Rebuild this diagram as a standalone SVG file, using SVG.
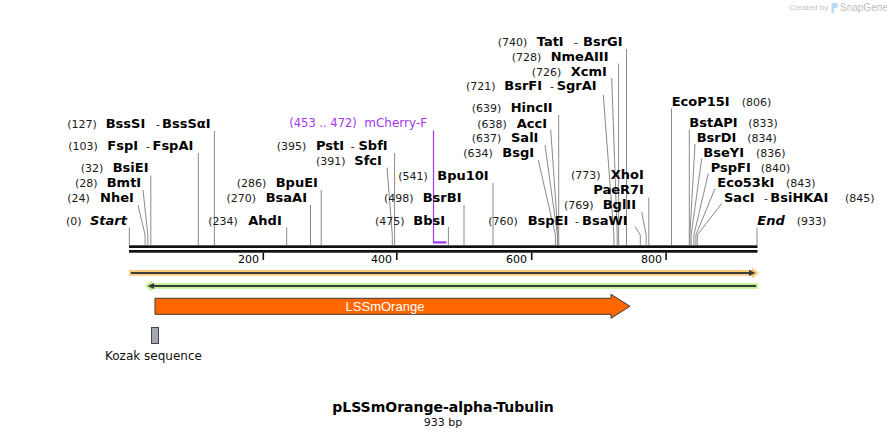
<svg xmlns="http://www.w3.org/2000/svg" width="887" height="438" viewBox="0 0 887 438">
<style>
text{font-family:"DejaVu Sans",Verdana,sans-serif}
.n{font-size:11px;fill:#1a1a1a}
.e{font-size:13px;font-weight:bold;fill:#000}
.i{font-size:13px;font-weight:bold;font-style:italic;fill:#000}
.p{fill:#a335ee}
.l{stroke:#8a8a8a;stroke-width:1;fill:none}
.t{font-size:11px;fill:#000}
</style>
<rect width="887" height="438" fill="#fff"/>
<g id="watermark">
<text x="789" y="10" style="font-family:'Liberation Sans',Arial,sans-serif;font-size:8px;fill:#c4c4c4">Created by</text>
<path d="M831.5,3 h4 a2.5,2.5 0 0 1 0,5 h-1.5 v5 h-2.5 z" fill="#b8dcf6"/>
<text x="840" y="11" style="font-family:'Liberation Sans',Arial,sans-serif;font-size:10px;fill:#bdbdbd">SnapGene</text>
</g>
<g id="backbone">
<rect x="129" y="245.3" width="628.5" height="2.7" fill="#111"/>
<rect x="129" y="250" width="628.5" height="2.7" fill="#111"/>
<rect x="262.5" y="252.5" width="1.6" height="7.5" fill="#111"/>
<rect x="396" y="252.5" width="1.6" height="7.5" fill="#111"/>
<rect x="530.9" y="252.5" width="1.6" height="7.5" fill="#111"/>
<rect x="665.3" y="252.5" width="1.6" height="7.5" fill="#111"/>
<text class="t" x="259" y="262.5" text-anchor="end">200</text>
<text class="t" x="392" y="262.5" text-anchor="end">400</text>
<text class="t" x="527" y="262.5" text-anchor="end">600</text>
<text class="t" x="662" y="262.5" text-anchor="end">800</text>
</g>
<g id="connectors">
<path class="l" d="M129.3,227.5V245"/>
<path class="l" d="M138,205L145.1,235V245"/>
<path class="l" d="M143,190L147.8,235V245"/>
<path class="l" d="M150.8,175.5V245"/>
<path class="l" d="M198.3,153V245"/>
<path class="l" d="M214.4,131V245"/>
<path class="l" d="M286.7,227.5V245"/>
<path class="l" d="M310.5,205V245"/>
<path class="l" d="M321.2,190V245"/>
<path class="l" d="M387,167.5L392.3,235V245"/>
<path class="l" d="M394.6,153V245"/>
<path class="l" d="M448.4,227V245"/>
<path class="l" d="M464,205V245"/>
<path class="l" d="M493,183V245"/>
<path class="l" d="M538.3,160L555.4,235V245"/>
<path class="l" d="M545,145L557.4,235V245"/>
<path class="l" d="M550.7,129.5L558,235V245"/>
<path class="l" d="M558.7,115V245"/>
<path class="l" d="M603.3,95L613.9,235V245"/>
<path class="l" d="M611.7,78L617.2,235V245"/>
<path class="l" d="M618.6,63.5V245"/>
<path class="l" d="M626.5,49V245"/>
<path class="l" d="M635,226.5L640.3,235V245"/>
<path class="l" d="M641.7,212L646.2,235V245"/>
<path class="l" d="M648.8,197.5V245"/>
<path class="l" d="M671.5,108.5V245"/>
<path class="l" d="M689.3,129.5V245"/>
<path class="l" d="M695,144L689.9,235V245"/>
<path class="l" d="M701.7,158.5L691.2,235V245"/>
<path class="l" d="M708.3,173.5L693.9,235V245"/>
<path class="l" d="M715,188.5L695.9,235V245"/>
<path class="l" d="M721.7,203.5L697.3,235V245"/>
<path class="l" d="M757,227.5V245"/>
<path d="M433.5,130.5V243" stroke="#a335ee" stroke-width="1.2" fill="none"/>
<rect x="433" y="241.3" width="13.5" height="2.2" fill="#a335ee"/>
</g>
<g id="start"><text class="n" x="66" y="225">(0)</text><text class="i" x="90" y="225">Start</text></g>
<g id="NheI"><text class="n" x="67.3" y="202">(24)</text><text class="e" x="100" y="202">NheI</text></g>
<g id="BmtI"><text class="n" x="75" y="187">(28)</text><text class="e" x="106.7" y="187">BmtI</text></g>
<g id="BsiEI"><text class="n" x="80.7" y="172">(32)</text><text class="e" x="112.7" y="172">BsiEI</text></g>
<g id="FspI"><text class="n" x="68.3" y="150">(103)</text><text class="e" x="107.3" y="150">FspI</text><text class="n" x="146" y="150">-</text><text class="e" x="152.5" y="150">FspAI</text></g>
<g id="BssSI"><text class="n" x="67.3" y="128">(127)</text><text class="e" x="105.7" y="128">BssSI</text><text class="n" x="156" y="128">-</text><text class="e" x="162" y="128">BssSαI</text></g>
<g id="AhdI"><text class="n" x="208.3" y="225">(234)</text><text class="e" x="248.3" y="225">AhdI</text></g>
<g id="BsaAI"><text class="n" x="226.4" y="202">(270)</text><text class="e" x="265.7" y="202">BsaAI</text></g>
<g id="BpuEI"><text class="n" x="236.7" y="187">(286)</text><text class="e" x="275.7" y="187">BpuEI</text></g>
<g id="SfcI"><text class="n" x="316" y="165">(391)</text><text class="e" x="354.3" y="165">SfcI</text></g>
<g id="PstI"><text class="n" x="276.7" y="150">(395)</text><text class="e" x="316" y="150">PstI</text><text class="n" x="350.7" y="150">-</text><text class="e" x="358.5" y="150">SbfI</text></g>
<g id="mCherry-F"><text class="n p" x="289.3" y="127" style="font-size:11.5px">(453 .. 472)</text><text class="p" x="364.3" y="127" style="font-size:12px">mCherry-F</text></g>
<g id="BbsI"><text class="n" x="375" y="225">(475)</text><text class="e" x="413.3" y="225">BbsI</text></g>
<g id="BsrBI"><text class="n" x="384" y="202">(498)</text><text class="e" x="422.7" y="202">BsrBI</text></g>
<g id="Bpu10I"><text class="n" x="398.3" y="180">(541)</text><text class="e" x="437.3" y="180">Bpu10I</text></g>
<g id="BsgI"><text class="n" x="463.3" y="157">(634)</text><text class="e" x="502.3" y="157">BsgI</text></g>
<g id="SalI"><text class="n" x="471.7" y="142">(637)</text><text class="e" x="511" y="142">SalI</text></g>
<g id="AccI"><text class="n" x="477.3" y="127.5">(638)</text><text class="e" x="516.7" y="127.5">AccI</text></g>
<g id="HincII"><text class="n" x="471.7" y="112">(639)</text><text class="e" x="510.7" y="112">HincII</text></g>
<g id="BsrFI"><text class="n" x="466" y="90">(721)</text><text class="e" x="504.3" y="90">BsrFI</text><text class="n" x="550" y="90">-</text><text class="e" x="556.7" y="90">SgrAI</text></g>
<g id="XcmI"><text class="n" x="531.7" y="75.5">(726)</text><text class="e" x="570.7" y="75.5">XcmI</text></g>
<g id="NmeAIII"><text class="n" x="511.7" y="61">(728)</text><text class="e" x="550.7" y="61">NmeAIII</text></g>
<g id="TatI"><text class="n" x="497.7" y="46">(740)</text><text class="e" x="536.7" y="46">TatI</text><text class="n" x="574" y="46">-</text><text class="e" x="583" y="46">BsrGI</text></g>
<g id="BspEI"><text class="n" x="488.3" y="225">(760)</text><text class="e" x="527.7" y="225">BspEI</text><text class="n" x="575" y="225">-</text><text class="e" x="582" y="225">BsaWI</text></g>
<g id="BglII"><text class="n" x="564" y="209">(769)</text><text class="e" x="602.7" y="209">BglII</text></g>
<g id="PaeR7I"><text class="e" x="593.3" y="194">PaeR7I</text></g>
<g id="XhoI"><text class="n" x="571" y="179">(773)</text><text class="e" x="610.7" y="179">XhoI</text></g>
<g id="EcoP15I"><text class="e" x="671.7" y="106">EcoP15I</text><text class="n" x="741.7" y="106">(806)</text></g>
<g id="BstAPI"><text class="e" x="689.3" y="127">BstAPI</text><text class="n" x="748.3" y="127">(833)</text></g>
<g id="BsrDI"><text class="e" x="696.7" y="142">BsrDI</text><text class="n" x="747.3" y="142">(834)</text></g>
<g id="BseYI"><text class="e" x="703.3" y="157">BseYI</text><text class="n" x="756" y="157">(836)</text></g>
<g id="PspFI"><text class="e" x="710.7" y="172">PspFI</text><text class="n" x="760.7" y="172">(840)</text></g>
<g id="Eco53kI"><text class="e" x="717.3" y="187">Eco53kI</text><text class="n" x="786" y="187">(843)</text></g>
<g id="SacI"><text class="e" x="724" y="202">SacI</text><text class="n" x="764" y="202">-</text><text class="e" x="770.3" y="202">BsiHKAI</text><text class="n" x="845" y="202">(845)</text></g>
<g id="end"><text class="i" x="757.3" y="225">End</text><text class="n" x="796.7" y="225">(933)</text></g>
<g id="forward-strand">
<polygon points="129,270 752,270 752,267.5 759,272.9 752,278.3 752,275.8 129,275.8" fill="#ffc97a"/>
<path d="M131,272.9H752" stroke="#3c3c3c" stroke-width="2"/>
<polygon points="749,269.8 755.5,272.9 749,276" fill="#3c3c3c"/>
</g>
<g id="reverse-strand">
<polygon points="145,286 152,280.5 152,283.3 758,283.3 758,288.7 152,288.7 152,291.5" fill="#bdf28f"/>
<path d="M151,286H756" stroke="#3c3c3c" stroke-width="2"/>
<polygon points="154,282.9 147.5,286 154,289.1" fill="#3c3c3c"/>
</g>
<g id="LSSmOrange">
<path d="M155,298.3H611V294.3L630,306.3L611,318.3V314.3H155Z" fill="#ff6600" stroke="#3a3a3a" stroke-width="1"/>
<text x="385" y="310.8" text-anchor="middle" style="font-family:'Liberation Sans',Arial,sans-serif;font-size:13px;fill:#fff">LSSmOrange</text>
</g>
<g id="Kozak">
<rect x="151.5" y="327.5" width="7" height="16" fill="#a4a9b0" stroke="#454545" stroke-width="1"/>
<text x="105" y="360" style="font-size:12px;fill:#111">Kozak sequence</text>
</g>
<g id="title">
<text x="443" y="412" text-anchor="middle" style="font-size:14px;font-weight:bold;fill:#000">pLSSmOrange-alpha-Tubulin</text>
<text x="443" y="426" text-anchor="middle" style="font-size:11px;fill:#111">933 bp</text>
</g>
</svg>
